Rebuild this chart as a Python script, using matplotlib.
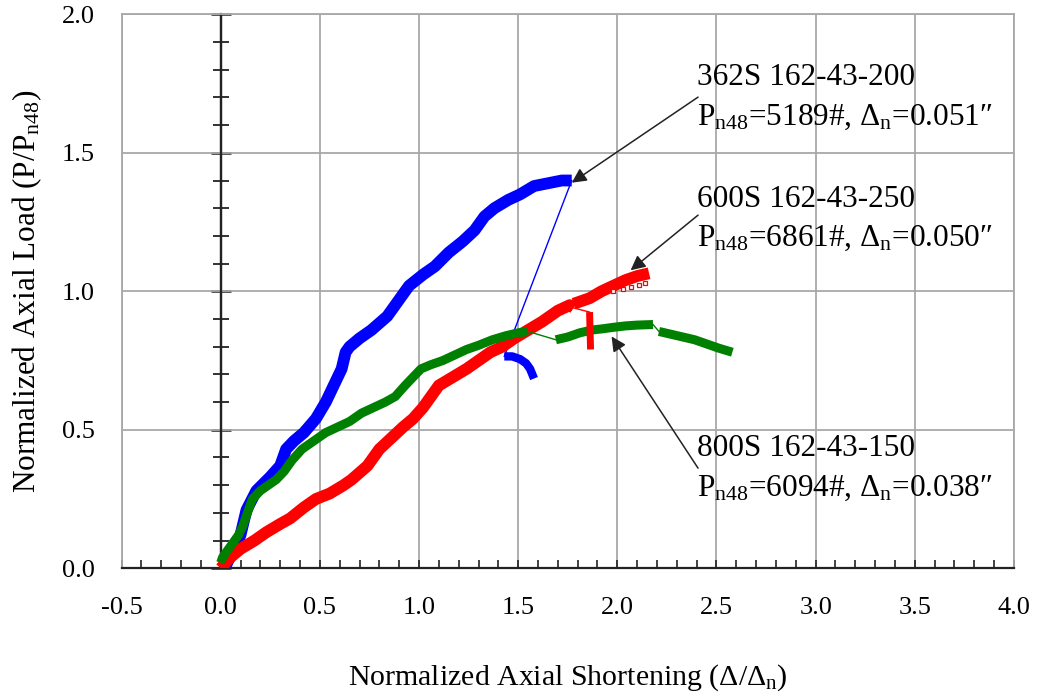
import numpy as np
import matplotlib
matplotlib.use("Agg")
import matplotlib.pyplot as plt
from matplotlib.ticker import MultipleLocator, FormatStrFormatter

plt.rcParams["font.family"] = ["Liberation Serif", "DejaVu Serif"]
plt.rcParams["mathtext.fontset"] = "custom"
plt.rcParams["mathtext.rm"] = "Liberation Serif"
plt.rcParams["mathtext.it"] = "Liberation Serif:italic"
plt.rcParams["axes.unicode_minus"] = False

# ---- 362S 162-43-200 (blue) ----
blue_x = [0.02, 0.04, 0.07, 0.10, 0.12, 0.13, 0.18, 0.25, 0.30, 0.33, 0.37, 0.42,
          0.48, 0.53, 0.57, 0.61, 0.63, 0.65, 0.70, 0.76, 0.84, 0.90, 0.95, 1.02,
          1.08, 1.15, 1.22, 1.28, 1.33, 1.38, 1.45, 1.51, 1.58, 1.65, 1.72, 1.77]
blue_y = [0.00, 0.03, 0.07, 0.12, 0.18, 0.21, 0.28, 0.33, 0.37, 0.43, 0.46, 0.49,
          0.54, 0.60, 0.66, 0.72, 0.78, 0.80, 0.83, 0.86, 0.91, 0.97, 1.02, 1.06,
          1.09, 1.14, 1.18, 1.22, 1.27, 1.30, 1.33, 1.35, 1.38, 1.39, 1.40, 1.40]
blue_post_x = [1.43, 1.47, 1.51, 1.54, 1.56, 1.58]
blue_post_y = [0.765, 0.765, 0.755, 0.74, 0.72, 0.685]

# ---- 600S 162-43-250 (red) ----
red_x = [0.00, 0.05, 0.10, 0.17, 0.23, 0.30, 0.35, 0.42, 0.48, 0.55, 0.62, 0.66,
         0.74, 0.80, 0.86, 0.92, 0.97, 1.02, 1.06, 1.10, 1.17, 1.24, 1.30, 1.36,
         1.42, 1.48, 1.55, 1.62, 1.70, 1.76, 1.78]
red_y = [0.00, 0.04, 0.07, 0.10, 0.13, 0.16, 0.18, 0.22, 0.25, 0.27, 0.30, 0.32,
         0.37, 0.43, 0.47, 0.51, 0.54, 0.58, 0.62, 0.66, 0.69, 0.72, 0.75, 0.78,
         0.80, 0.83, 0.86, 0.89, 0.93, 0.95, 0.94]
red_drop_x = [1.86, 1.865]
red_drop_y = [0.925, 0.79]
red_post_x = [1.78, 1.86, 1.92, 1.98, 2.04, 2.10, 2.16]
red_post_y = [0.955, 0.975, 1.00, 1.02, 1.04, 1.055, 1.065]
red_open_x = [1.98, 2.03, 2.07, 2.11, 2.14]
red_open_y = [1.000, 1.008, 1.015, 1.022, 1.030]

# ---- 800S 162-43-150 (green) ----
green_x = [0.00, 0.01, 0.03, 0.06, 0.09, 0.11, 0.13, 0.16, 0.20, 0.24, 0.28, 0.32,
           0.36, 0.41, 0.47, 0.53, 0.59, 0.65, 0.71, 0.77, 0.83, 0.88, 0.93, 0.97,
           1.01, 1.06, 1.12, 1.18, 1.24, 1.30, 1.37, 1.44, 1.50, 1.55]
green_y = [0.02, 0.04, 0.06, 0.09, 0.12, 0.15, 0.19, 0.25, 0.28, 0.30, 0.32, 0.35,
           0.39, 0.43, 0.46, 0.49, 0.51, 0.53, 0.56, 0.58, 0.60, 0.62, 0.66, 0.69,
           0.72, 0.735, 0.75, 0.77, 0.79, 0.805, 0.825, 0.84, 0.85, 0.855]
green_mid_x = [1.69, 1.75, 1.81, 1.87, 1.93, 1.98, 2.04, 2.10, 2.18]
green_mid_y = [0.825, 0.835, 0.85, 0.86, 0.865, 0.87, 0.875, 0.878, 0.88]
green_end_x = [2.21, 2.27, 2.33, 2.39, 2.45, 2.51, 2.58]
green_end_y = [0.855, 0.845, 0.835, 0.825, 0.81, 0.795, 0.78]

# ---- annotations ----
labels = [
    "362S 162-43-200\nP$_\\mathregular{n48}$=5189#, Δ$_\\mathregular{n}$=0.051″",
    "600S 162-43-250\nP$_\\mathregular{n48}$=6861#, Δ$_\\mathregular{n}$=0.050″",
    "800S 162-43-150\nP$_\\mathregular{n48}$=6094#, Δ$_\\mathregular{n}$=0.038″",
]
label_x = 2.40
label_y = [1.70, 1.262, 0.36]
arrow_tail = [(2.407, 1.701), (2.407, 1.275), (2.407, 0.3615)]
arrow_tip = [(1.77, 1.392), (2.067, 1.076), (1.971, 0.837)]

BLUE, RED, GREEN = "#0000ff", "#ff0000", "#008000"
AXIS = "#222222"

fig = plt.figure(figsize=(10.39, 7.0), dpi=100)
ax = fig.add_axes([121.5 / 1039, (700 - 568.3) / 700,
                   (1014 - 121.5) / 1039, (568.3 - 14.3) / 700])
ax.set_xlim(-0.5, 4.0)
ax.set_ylim(0, 2.0)

ax.xaxis.set_major_locator(MultipleLocator(0.5))
ax.xaxis.set_minor_locator(MultipleLocator(0.1))
ax.xaxis.set_major_formatter(FormatStrFormatter("%.1f"))
ax.yaxis.set_major_locator(MultipleLocator(0.5))
ax.yaxis.set_major_formatter(FormatStrFormatter("%.1f"))

ax.grid(True, which="major", color="#a8a8a8", lw=1.3, zorder=0)
ax.set_axisbelow(True)

for s in ("top", "right", "left"):
    ax.spines[s].set_color("#a8a8a8")
    ax.spines[s].set_linewidth(1.3)
ax.spines["bottom"].set_color(AXIS)
ax.spines["bottom"].set_linewidth(1.6)

ax.tick_params(axis="x", which="both", direction="in", length=5.5, width=1.2,
               color=AXIS, labelsize=19, pad=21)
ax.tick_params(axis="y", which="both", length=0, labelsize=19, pad=19)

# vertical axis line through x = 0 with crossing ticks
ax.axvline(0, color=AXIS, lw=1.6, zorder=1.5)
yax0 = ax.secondary_yaxis(0.5 / 4.5)
yax0.spines["left"].set_color(AXIS)
yax0.spines["left"].set_linewidth(1.6)
yax0.yaxis.set_major_locator(MultipleLocator(0.5))
yax0.yaxis.set_minor_locator(MultipleLocator(0.1))
yax0.tick_params(axis="y", which="major", direction="inout", length=15, width=1.8,
                 color=AXIS, labelleft=False)
yax0.tick_params(axis="y", which="minor", direction="inout", length=11.5, width=1.3,
                 color=AXIS, labelleft=False)

thick = dict(solid_capstyle="butt", solid_joinstyle="round")

# blue
ax.plot(blue_x, blue_y, color=BLUE, lw=8.5, zorder=3, **thick)
ax.plot([blue_x[-1], blue_post_x[0]], [blue_y[-1], blue_post_y[0]],
        color=BLUE, lw=1.0, zorder=3)
ax.plot(blue_post_x, blue_post_y, color=BLUE, lw=6, zorder=3, **thick)

# red
ax.plot(red_x, red_y, color=RED, lw=8.5, zorder=4, **thick)
ax.plot([red_x[-1], red_drop_x[0]], [red_y[-1], red_drop_y[0]], color=RED, lw=1.0, zorder=4)
ax.plot(red_drop_x, red_drop_y, color=RED, lw=5, zorder=6, **thick)
ax.plot(red_post_x, red_post_y, color=RED, lw=8.5, zorder=4, **thick)
ax.plot(red_open_x, red_open_y, ls="none", marker="s", ms=3.2, mfc="white",
        mec=RED, mew=0.9, zorder=4)

# green
ax.plot(green_x, green_y, color=GREEN, lw=6.5, zorder=5, **thick)
ax.plot([green_x[-1], green_mid_x[0]], [green_y[-1], green_mid_y[0]],
        color=GREEN, lw=1.0, zorder=5)
ax.plot(green_mid_x, green_mid_y, color=GREEN, lw=6.5, zorder=5, **thick)
ax.plot([green_mid_x[-1], green_end_x[0]], [green_mid_y[-1], green_end_y[0]],
        color=GREEN, lw=1.0, zorder=5)
ax.plot(green_end_x, green_end_y, color=GREEN, lw=6.5, zorder=5, **thick)

for txt, ly, tail, tip in zip(labels, label_y, arrow_tail, arrow_tip):
    ax.text(label_x, ly, txt, ha="left", va="center", fontsize=22.5,
            linespacing=1.45, zorder=7)
    ax.annotate("", xy=tip, xytext=tail,
                arrowprops=dict(arrowstyle="-|>", color=AXIS, lw=1.1,
                                mutation_scale=22, shrinkA=0, shrinkB=0),
                zorder=7)

ax.set_xlabel("Normalized Axial Shortening (Δ/Δ$_\\mathregular{n}$)", fontsize=21.5,
              labelpad=31)
ax.set_ylabel("Normalized Axial Load (P/P$_\\mathregular{n48}$)", fontsize=22.5,
              labelpad=13)

fig.savefig("out.png", dpi=100)
